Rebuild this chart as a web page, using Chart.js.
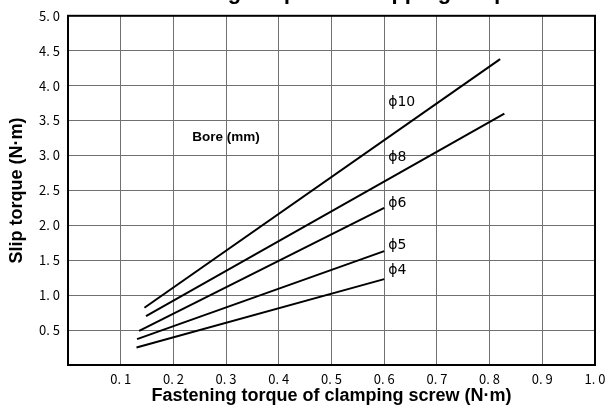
<!DOCTYPE html>
<html>
<head>
<meta charset="utf-8">
<script src="https://cdn.jsdelivr.net/npm/chart.js@4.4.0/dist/chart.umd.min.js"></script>
<style>
  html, body { margin: 0; padding: 0; background: #fff; overflow: hidden; }
  #wrap { width: 612px; height: 408px; position: relative; }
</style>
</head>
<body>
<div id="wrap"><canvas id="myChart" width="612" height="408"></canvas></div>
<script>
"use strict"

// bore sizes and their (fastening torque, slip torque) end points
const boreNames = ["ϕ10", "ϕ8", "ϕ6", "ϕ5", "ϕ4"];
const fastenStart = [0.145, 0.148, 0.135, 0.131, 0.130];
const fastenEnd = [0.820, 0.828, 0.600, 0.600, 0.600];
const slipStart = [0.82, 0.70, 0.49, 0.37, 0.25];
const slipEnd = [4.38, 3.60, 2.25, 1.63, 1.23];

const xTicks = [0.1, 0.2, 0.3, 0.4, 0.5, 0.6, 0.7, 0.8, 0.9, 1.0];
const yTicks = [0.5, 1.0, 1.5, 2.0, 2.5, 3.0, 3.5, 4.0, 4.5, 5.0];

// where the bore names sit (slip torque at x = 0.6)
const nameY = [3.76, 2.97, 2.32, 1.72, 1.36];

const tickFont = { family: "'Noto Sans CJK JP', 'DejaVu Sans'", size: 13 };
const boldFont = { family: "'Liberation Sans', Arial, sans-serif", weight: "bold", size: 18 };

function fmt(v) {
    return v.toFixed(1).replace(".", ". ");
}

let datasets = [];
for (let i = 0; i < boreNames.length; i++) {
    datasets.push({
        label: boreNames[i],
        data: [{ x: fastenStart[i], y: slipStart[i] }, { x: fastenEnd[i], y: slipEnd[i] }],
        showLine: true,
        borderColor: "#000",
        borderWidth: 2,
        pointRadius: 0,
        fill: false
    });
}

// frame, labels and the (cut off) title
const extras = {
    id: "extras",
    beforeDatasetsDraw(chart) {
        const ctx = chart.ctx;
        const a = chart.chartArea;
        ctx.save();
        ctx.strokeStyle = "#000";
        ctx.lineWidth = 2;
        ctx.strokeRect(a.left, a.top, a.right - a.left, a.bottom - a.top);
        ctx.restore();
    },
    afterDatasetsDraw(chart) {
        const ctx = chart.ctx;
        const xs = chart.scales.x;
        const ys = chart.scales.y;
        ctx.save();
        ctx.fillStyle = "#000";
        ctx.font = "14px 'DejaVu Sans', 'Noto Sans CJK JP'";
        ctx.textBaseline = "middle";
        ctx.textAlign = "left";
        for (let i = 0; i < boreNames.length; i++) {
            ctx.fillText(boreNames[i], xs.getPixelForValue(0.6) + 4, ys.getPixelForValue(nameY[i]));
        }
        ctx.font = "bold 13.5px 'Liberation Sans', Arial, sans-serif";
        ctx.textAlign = "center";
        ctx.fillText("Bore (mm)", xs.getPixelForValue(0.30), ys.getPixelForValue(3.26));

        ctx.font = "bold 22px 'Liberation Sans', Arial, sans-serif";
        ctx.textBaseline = "alphabetic";
        ctx.fillText("Fastening torque and slipping torque", (chart.chartArea.left + chart.chartArea.right) / 2, -1.5);
        ctx.restore();
    }
};

const config = {
    type: "scatter",
    data: { datasets: datasets },
    options: {
        responsive: false,
        animation: false,
        layout: { padding: { top: 15, right: 17, left: 0, bottom: 0 } },
        plugins: { legend: { display: false }, tooltip: { enabled: false } },
        scales: {
            x: {
                type: "linear",
                min: 0,
                max: 1,
                afterBuildTicks: (s) => { s.ticks = [0].concat(xTicks).map(v => ({ value: v })); },
                afterFit: (s) => { s.height = 43; },
                grid: { color: "#707070", lineWidth: 1, drawTicks: false },
                border: { display: false },
                ticks: {
                    color: "#000",
                    font: tickFont,
                    padding: 6,
                    maxRotation: 0,
                    callback: (v) => v === 0 ? "" : fmt(v)
                },
                title: {
                    display: true,
                    text: "Fastening torque of clamping screw (N·m)",
                    color: "#000",
                    font: boldFont,
                    padding: { top: 0, bottom: 1 }
                }
            },
            y: {
                type: "linear",
                min: 0,
                max: 5,
                afterBuildTicks: (s) => { s.ticks = [0].concat(yTicks).map(v => ({ value: v })); },
                afterFit: (s) => { s.width = 68; },
                grid: { color: "#707070", lineWidth: 1, drawTicks: false },
                border: { display: false },
                ticks: {
                    color: "#000",
                    font: tickFont,
                    padding: 8,
                    callback: (v) => v === 0 ? "" : fmt(v)
                },
                title: {
                    display: true,
                    text: "Slip torque (N·m)",
                    color: "#000",
                    font: boldFont,
                    padding: { top: 6, bottom: 0 }
                }
            }
        }
    },
    plugins: [extras]
};

const productChart = new Chart(document.getElementById("myChart"), config);
</script>
</body>
</html>
